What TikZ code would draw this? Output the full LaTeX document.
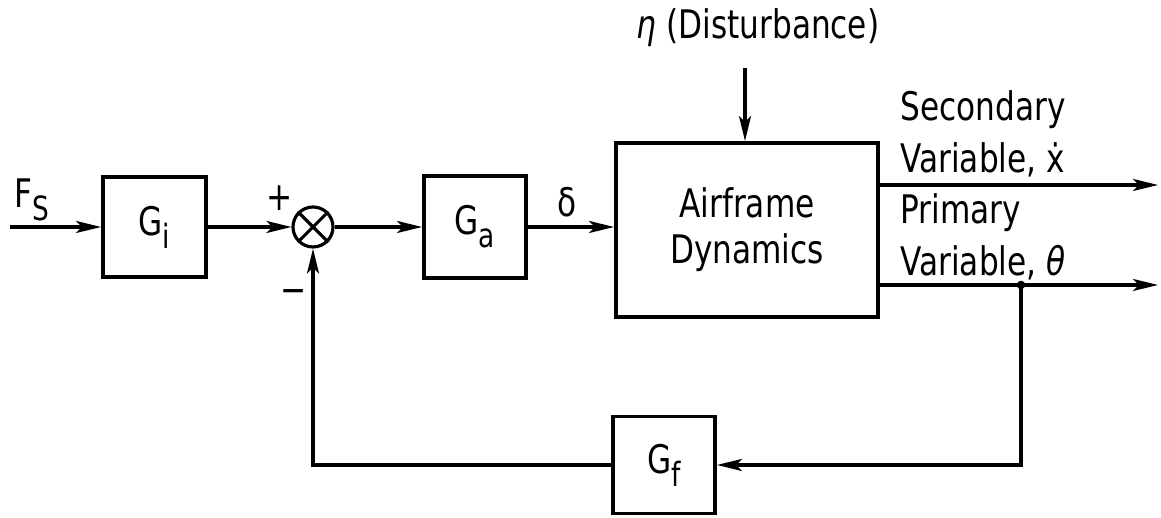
\documentclass[tikz,border=0pt]{standalone}
\usepackage{fontspec}
\setmainfont{DejaVu Sans Condensed}[FakeStretch=0.88]
\usetikzlibrary{arrows.meta}
\newcommand{\lowsub}[1]{\raisebox{-0.6ex}{\fontsize{9.5}{10}\selectfont #1}}

\begin{document}
\begin{tikzpicture}[
	blk/.style={draw, line width=1.1pt, inner sep=0pt},
	sig/.style={-{Stealth[length=2.5mm,width=1.2mm,inset=0.6mm]}, line width=0.9pt},
	every node/.style={font=\fontsize{11.2}{14.8}\selectfont}]
\useasboundingbox (0,0) rectangle (11.61,5.18);
\node[blk, minimum width=1.03cm, minimum height=1cm] (gi) at (1.545,2.91) {G\lowsub{i}};
\node[draw, circle, line width=0.9pt, minimum size=0.4cm, inner sep=0pt] (sum) at (3.13,2.91) {};
\draw[line width=0.9pt] (sum.north west) -- (sum.south east) (sum.north east) -- (sum.south west);
\node[blk, minimum width=1.02cm, minimum height=1.02cm] (ga) at (4.75,2.91) {G\lowsub{a}};
\node[blk, minimum width=2.62cm, minimum height=1.74cm, align=center,
	font=\fontsize{11.2}{13}\selectfont] (af) at (7.47,2.88) {Airframe\\Dynamics};
\node[blk, minimum width=1.02cm, minimum height=0.97cm] (gf) at (6.64,0.53) {G\lowsub{f}};
\coordinate (in) at (0.10,2.91);
\node (fs) at (0.32,3.18) {F\lowsub{S}};
\draw[sig] (in) -- (gi);
\draw[sig] (gi) -- (sum);
\draw[sig] (sum) -- (ga);
\draw[sig] (ga) -- (ga -| af.west);
\node (pl) at (2.80,3.20) {+};
\node (mi) at (2.94,2.21) {−};
\node (dl) at (5.67,3.16) {δ};
\node (eta) at (7.58,4.90) {\textit{η} (Disturbance)};
\coordinate (dtop) at (7.45,4.50);
\draw[sig] (dtop) -- (dtop |- af.north);
\coordinate (sec) at (11.58,3.33);
\coordinate (pri) at (11.58,2.33);
\draw[sig] (af.east |- sec) -- (sec);
\draw[sig] (af.east |- pri) -- (pri);
\node[anchor=west, align=left, inner sep=0pt] (seclab) at (9.00,3.84) {Secondary\\Variable, ẋ};
\node[anchor=west, align=left, inner sep=0pt] (prilab) at (9.00,2.81) {Primary\\Variable, \textit{θ}};
\coordinate (br) at (10.21,2.33);
\filldraw (br) circle (0.035);
\draw[sig] (br) |- (gf);
\draw[sig] (gf) -| (sum);
\end{tikzpicture}
\end{document}
